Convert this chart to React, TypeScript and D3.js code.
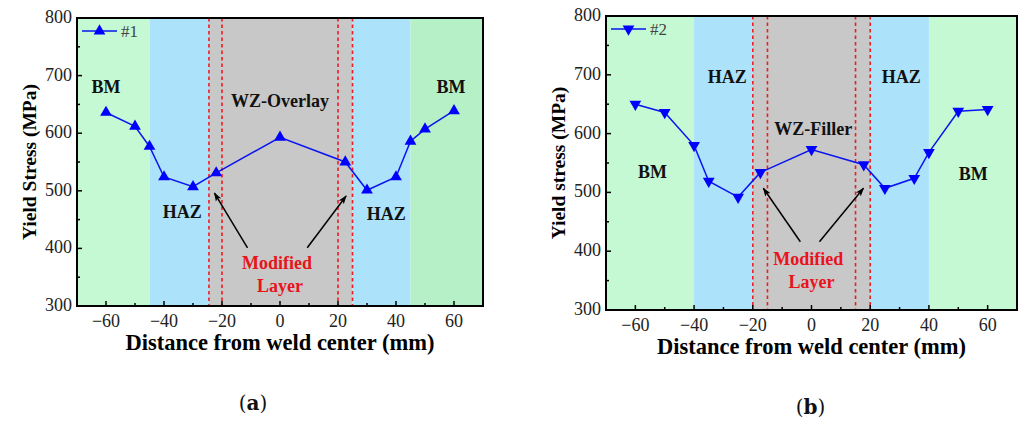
import React, { useEffect, useRef } from 'react';
import * as d3 from 'd3';

// distances (mm) and yield stress (MPa)
const distA = [-60, -50, -45, -40, -30, -22, 0, 22.5, 30, 40, 45, 50, 60];
const stressA = [636, 612, 577, 524, 507, 531, 593, 550, 501, 524, 586, 607, 639];
const distB = [-60, -50, -40, -35, -25, -17.4, 0, 17.8, 25, 35, 40, 50, 60];
const stressB = [650, 636, 580, 519, 492, 534, 573, 547, 507, 524, 568, 638, 641];

const xTicks = [-60, -40, -20, 0, 20, 40, 60];
const yTicks = [300, 400, 500, 600, 700, 800];

// zone limits: [from, to, kind]
const zonesA: [number, number, string][] = [
  [-70, -45, 'bm'], [-45, -24.5, 'haz'], [-24.5, 25, 'wz'], [25, 45, 'haz'], [45, 70, 'bm2'],
];
const zonesB: [number, number, string][] = [
  [-70, -40, 'bm'], [-40, -20, 'haz'], [-20, 20, 'wz'], [20, 40, 'haz'], [40, 70, 'bm'],
];
const redLinesA = [-24.5, -20, 20, 25];
const redLinesB = [-20, -15, 15, 20];

// annotation labels in data units [x, y, text, color]
const labelsA: [number, number, string, string][] = [
  [-60, 680, 'BM', '#111'], [59, 680, 'BM', '#111'], [0, 656, 'WZ-Overlay', '#111'],
  [-33.7, 463, 'HAZ', '#111'], [36.6, 460, 'HAZ', '#111'],
  [-1, 375, 'Modified', '#e8141c'], [0, 336, 'Layer', '#e8141c'],
];
const labelsB: [number, number, string, string][] = [
  [-28.7, 696, 'HAZ', '#111'], [30.6, 696, 'HAZ', '#111'], [0.6, 608, 'WZ-Filler', '#111'],
  [-54.2, 536, 'BM', '#111'], [55.1, 531, 'BM', '#111'],
  [-1.1, 388, 'Modified', '#e8141c'], [0, 348, 'Layer', '#e8141c'],
];
// arrows [x0, y0, x1, y1] in data units
const arrowsA = [[-11.2, 401, -22.6, 496], [9.4, 401, 22.8, 491]];
const arrowsB = [[-3.8, 416, -16.4, 507], [2.7, 416, 17.7, 507]];

const zoneColors: Record<string, string> = {
  bm: '#c4f9d4', bm2: '#b6f0c6', haz: '#ace3fa', wz: '#c8c8c8',
};

const SERIF = "'Liberation Serif', 'Times New Roman', Times, serif";

function Panel({ id, left, top, width, height, dist, stress, zones, redLines, labels, arrows,
  down, legend, yTitle, caption }) {
  const ref = useRef(null);

  useEffect(() => {
    const g = d3.select(ref.current);
    g.selectAll('*').remove();

    const x = d3.scaleLinear().domain([-70, 70]).range([0, width]);
    const y = d3.scaleLinear().domain([300, 800]).range([height, 0]);

    g.append('defs').append('marker')
      .attr('id', `arr-${id}`)
      .attr('viewBox', '0 0 10 10')
      .attr('refX', 9).attr('refY', 5)
      .attr('markerWidth', 9).attr('markerHeight', 9)
      .attr('markerUnits', 'userSpaceOnUse')
      .attr('orient', 'auto')
      .append('path')
      .attr('d', 'M0,1.5 L10,5 L0,8.5 L2.5,5 Z')
      .attr('fill', '#000');

    // background zones
    g.selectAll('rect.zone')
      .data(zones)
      .enter()
      .append('rect')
      .attr('class', 'zone')
      .attr('x', (d) => x(d[0]))
      .attr('y', 0)
      .attr('width', (d) => x(d[1]) - x(d[0]))
      .attr('height', height)
      .attr('fill', (d) => zoneColors[d[2]]);

    // red dashed boundaries
    g.selectAll('line.red')
      .data(redLines)
      .enter()
      .append('line')
      .attr('x1', (d) => x(d)).attr('x2', (d) => x(d))
      .attr('y1', 0).attr('y2', height)
      .attr('stroke', '#ee1c24')
      .attr('stroke-width', 1.6)
      .attr('stroke-dasharray', '3.5,3');

    // ticks inside
    const xMinor = d3.range(-60, 61, 10);
    g.selectAll('line.xt')
      .data(xMinor)
      .enter()
      .append('line')
      .attr('x1', (d) => x(d)).attr('x2', (d) => x(d))
      .attr('y1', height)
      .attr('y2', (d) => height - (d % 20 === 0 ? 5 : 3))
      .attr('stroke', '#000').attr('stroke-width', 1.5);
    const yMinor = d3.range(300, 801, 50);
    g.selectAll('line.yt')
      .data(yMinor)
      .enter()
      .append('line')
      .attr('x1', 0)
      .attr('x2', (d) => (d % 100 === 0 ? 5 : 3))
      .attr('y1', (d) => y(d)).attr('y2', (d) => y(d))
      .attr('stroke', '#000').attr('stroke-width', 1.5);

    // tick labels
    g.selectAll('text.xl')
      .data(xTicks)
      .enter()
      .append('text')
      .attr('x', (d) => x(d))
      .attr('y', height + 21)
      .attr('text-anchor', 'middle')
      .attr('font-family', SERIF)
      .attr('font-size', 18)
      .attr('fill', '#222')
      .text((d) => (d < 0 ? `\u2212${-d}` : `${d}`));
    g.selectAll('text.yl')
      .data(yTicks)
      .enter()
      .append('text')
      .attr('x', -5)
      .attr('y', (d) => y(d) + 5)
      .attr('text-anchor', 'end')
      .attr('font-family', SERIF)
      .attr('font-size', 18)
      .attr('fill', '#222')
      .text((d) => d);

    // series
    const pts = dist.map((d, i) => [d, stress[i]]);
    g.append('path')
      .datum(pts)
      .attr('d', d3.line().x((d) => x(d[0])).y((d) => y(d[1])))
      .attr('fill', 'none')
      .attr('stroke', '#0a14f0')
      .attr('stroke-width', 1.5);
    const sym = d3.symbol(d3.symbolTriangle, 60);
    g.selectAll('path.pt')
      .data(pts)
      .enter()
      .append('path')
      .attr('d', sym)
      .attr('transform', (d) => `translate(${x(d[0])},${y(d[1])})${down ? ' rotate(180)' : ''}`)
      .attr('fill', '#0000ff');

    // annotation labels and arrows
    g.selectAll('text.lab')
      .data(labels)
      .enter()
      .append('text')
      .attr('x', (d) => x(d[0]))
      .attr('y', (d) => y(d[1]))
      .attr('dy', '0.35em')
      .attr('text-anchor', 'middle')
      .attr('font-family', SERIF)
      .attr('font-size', 18)
      .attr('font-weight', 'bold')
      .attr('fill', (d) => d[3])
      .text((d) => d[2]);
    g.selectAll('line.arr')
      .data(arrows)
      .enter()
      .append('line')
      .attr('x1', (d) => x(d[0])).attr('y1', (d) => y(d[1]))
      .attr('x2', (d) => x(d[2])).attr('y2', (d) => y(d[3]))
      .attr('stroke', '#000')
      .attr('stroke-width', 1.5)
      .attr('marker-end', `url(#arr-${id})`);

    // legend
    g.append('line')
      .attr('x1', 5).attr('x2', 40)
      .attr('y1', 13).attr('y2', 13)
      .attr('stroke', '#0a14f0').attr('stroke-width', 1.5);
    g.append('path')
      .attr('d', sym)
      .attr('transform', `translate(22.5,13)${down ? ' rotate(180)' : ''}`)
      .attr('fill', '#0000ff');
    g.append('text')
      .attr('x', 44).attr('y', 19)
      .attr('font-family', SERIF)
      .attr('font-size', 17)
      .attr('fill', '#444')
      .text(legend);

    // frame
    g.append('rect')
      .attr('width', width).attr('height', height)
      .attr('fill', 'none')
      .attr('stroke', '#000')
      .attr('stroke-width', 2);

    // axis titles
    g.append('text')
      .attr('x', width / 2)
      .attr('y', height + 44)
      .attr('text-anchor', 'middle')
      .attr('font-family', SERIF)
      .attr('font-size', 22.5)
      .attr('font-weight', 'bold')
      .text('Distance from weld center (mm)');
    g.append('text')
      .attr('transform', `translate(-41,${height / 2}) rotate(-90)`)
      .attr('text-anchor', 'middle')
      .attr('font-family', SERIF)
      .attr('font-size', 19.5)
      .attr('font-weight', 'bold')
      .text(yTitle);

    const cap = g.append('text')
      .attr('x', width / 2 + caption.dx)
      .attr('y', height + 104)
      .attr('text-anchor', 'middle')
      .attr('font-family', "'DejaVu Serif', serif")
      .attr('font-size', 20)
      .attr('fill', '#111');
    cap.append('tspan').text('(');
    cap.append('tspan').attr('font-weight', 'bold').text(caption.letter);
    cap.append('tspan').text(')');
  }, []);

  return <g ref={ref} transform={`translate(${left},${top})`} />;
}

export default function App() {
  return (
    <svg width={1021} height={421} style={{ position: 'absolute', left: 0, top: 0, background: '#fff' }}>
      <Panel id="a" left={77} top={18} width={406} height={288}
        dist={distA} stress={stressA} zones={zonesA} redLines={redLinesA}
        labels={labelsA} arrows={arrowsA} down={false} legend="#1"
        yTitle="Yield Stress (MPa)" caption={{ letter: 'a', dx: -27 }} />
      <Panel id="b" left={606} top={16} width={411} height={294}
        dist={distB} stress={stressB} zones={zonesB} redLines={redLinesB}
        labels={labelsB} arrows={arrowsB} down legend="#2"
        yTitle="Yield stress (MPa)" caption={{ letter: 'b', dx: -1 }} />
    </svg>
  );
}
